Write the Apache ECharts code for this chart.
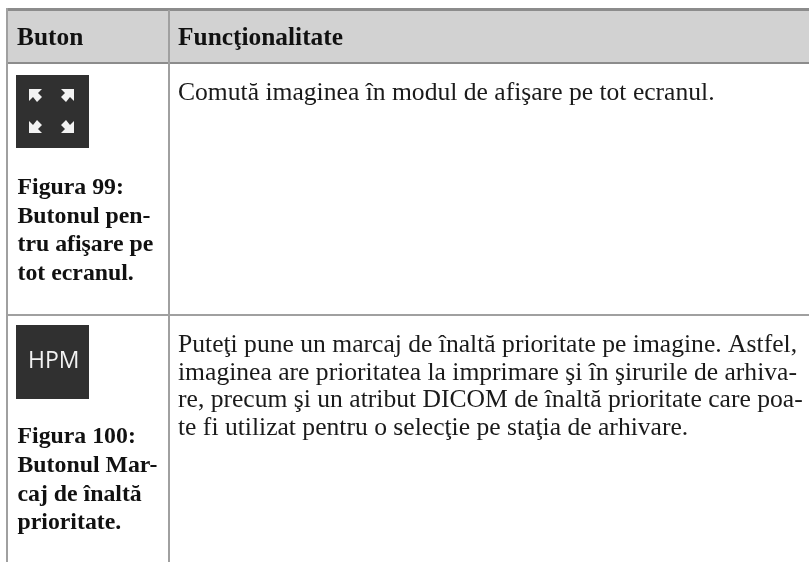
<!DOCTYPE html>
<html><head><meta charset="utf-8">
<style>html,body{margin:0;padding:0;background:#fff}#c{width:809px;height:562px}</style>
<script src="https://cdn.jsdelivr.net/npm/echarts@6/dist/echarts.min.js"></script>
</head><body><div id="c"></div>
<script>
const headers = ["Buton", "Funcţionalitate"];
const row1Caption = ["Figura 99:", "Butonul pen-", "tru afişare pe", "tot ecranul."];
const row1Text = ["Comută imaginea în modul de afişare pe tot ecranul."];
const row2Caption = ["Figura 100:", "Butonul Mar-", "caj de înaltă", "prioritate."];
const row2Text = [
  "Puteţi pune un marcaj de înaltă prioritate pe imagine. Astfel,",
  "imaginea are prioritatea la imprimare şi în şirurile de arhiva-",
  "re, precum şi un atribut DICOM de înaltă prioritate care poa-",
  "te fi utilizat pentru o selecţie pe staţia de arhivare."
];
const buttonLabel = "HPM";

const LINE = "#a0a0a0", RULE = "#8c8c8c", DARK = "#303030";
const serif = '"Liberation Serif"';
const els = [];
const rect = (x,y,w,h,fill) => els.push({type:'rect',shape:{x,y,width:w,height:h},style:{fill},silent:true});
// y is the baseline; k is the font's baseline offset from the top of zrender's line box
const text = (x,y,t,size,family,weight,fill,k) => els.push({type:'text',x,y:y-(k||0.76)*size,style:{text:t,font:(weight||'normal')+' '+size+'px '+family,fill:fill||'#1a1a1a',align:'left',verticalAlign:'top'},silent:true});
const lines = (x,y0,dy,arr,size,weight,fill) => arr.forEach((t,i)=>text(x,y0+i*dy,t,size,serif,weight,fill));

rect(6,10,803,53,'#d2d2d2');
rect(6,8,803,3,RULE);
rect(6,62,803,2,RULE);
rect(6,314,803,2,LINE);
rect(6,8,2,554,LINE);
rect(168,10,2,552,LINE);

text(17,45,headers[0],25.4,serif,'bold','#111');
text(178,45,headers[1],25.4,serif,'bold','#111');

rect(16,75,73,73,DARK);
rect(16,325,73,74,DARK);
text(28,369,buttonLabel,23,'"Open Sans"','normal','#f2f2f2',0.81);

lines(17.5,194,28.5,row1Caption,23.8,'bold','#111');
lines(17.5,443,28.8,row2Caption,23.8,'bold','#111');
lines(178,100,27.5,row1Text,25.6);
lines(178,352,27.5,row2Text,25.6);

// Arrow glyphs of the full-screen button
const arrows = [
  [[29,89],[42,89],[38,93],[42,97],[37,102],[33,97],[29,101]],
  [[74,89],[61,89],[65,93],[61,97],[66,102],[70,97],[74,101]],
  [[29,133],[42,133],[38,129],[42,125],[37,120],[33,125],[29,121]],
  [[74,133],[61,133],[65,129],[61,125],[66,120],[70,125],[74,121]]
];
arrows.forEach(p=>els.push({type:'polygon',shape:{points:p},style:{fill:'#f2f2f2'},silent:true}));

echarts.init(document.getElementById('c'),null,{renderer:'canvas'}).setOption({animation:false,backgroundColor:'#fff',graphic:{elements:els}});
</script></body></html>
